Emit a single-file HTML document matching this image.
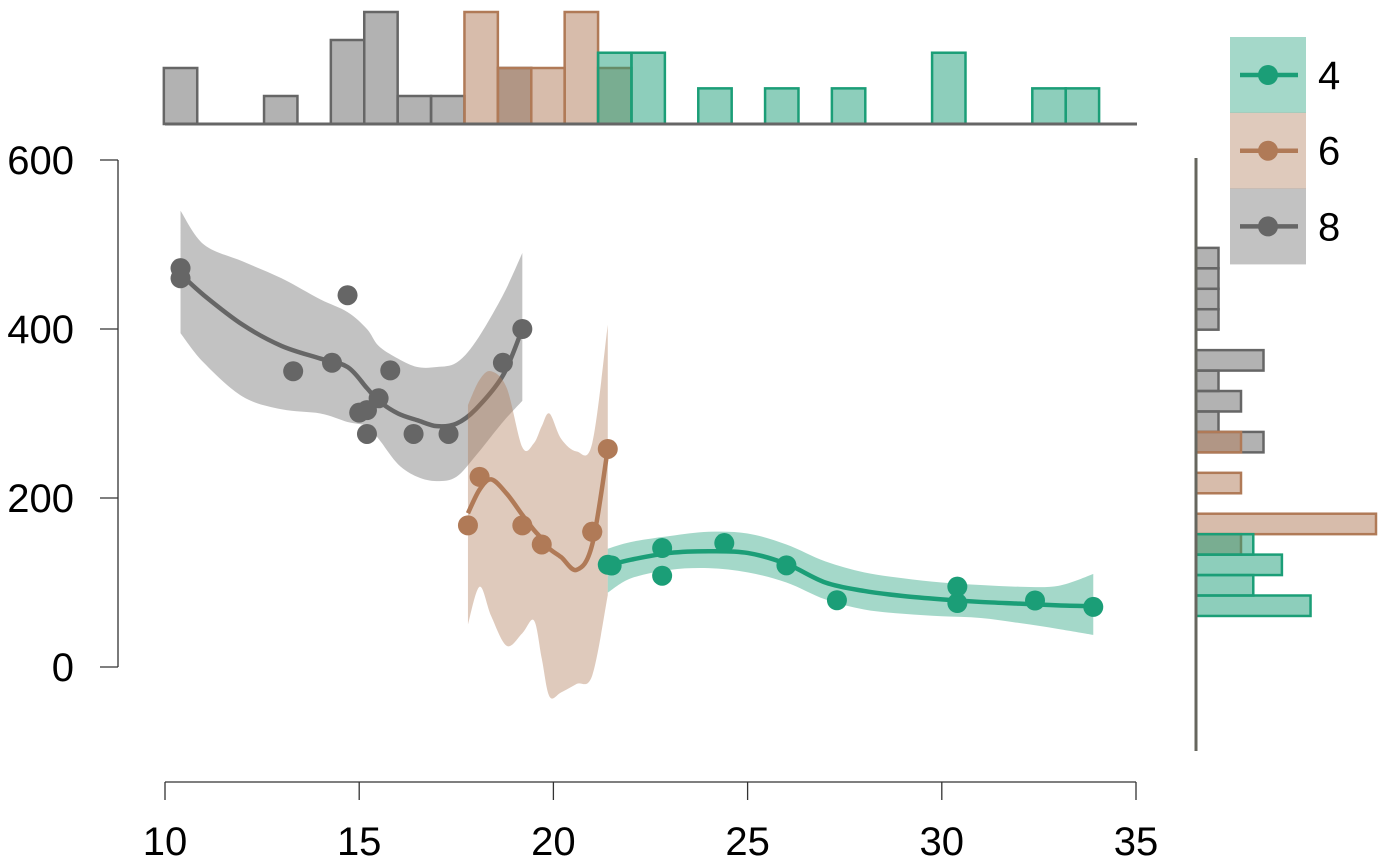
<!DOCTYPE html>
<html><head><meta charset="utf-8">
<style>
html,body{margin:0;padding:0;background:#fff;}
svg{display:block;font-family:"Liberation Sans",Arial,sans-serif;}
</style></head>
<body>
<svg id="chart" width="1400" height="866" viewBox="0 0 1400 866"></svg>
<script>
const groups = ["4","6","8"];
const colors = {"4":"#1b9e77","6":"#b07a57","8":"#666666"};
const mpg4 = [22.8,24.4,22.8,32.4,30.4,33.9,21.5,27.3,26.0,30.4,21.4];
const disp4 = [108,146.7,140.8,78.7,75.7,71.1,120.1,79,120.3,95.1,121];
const mpg6 = [21.0,21.0,21.4,18.1,19.2,17.8,19.7];
const disp6 = [160,160,258,225,167.6,167.6,145];
const mpg8 = [18.7,14.3,16.4,17.3,15.2,10.4,10.4,14.7,15.5,15.2,13.3,19.2,15.8,15.0];
const disp8 = [360,360,275.8,275.8,275.8,472,460,440,318,304,350,400,351,301];
// smooth fits (estimated)
const fitX8 = [10.4,11,12,13,14,14.7,15.2,15.5,16,16.5,17,17.5,18,18.7,19.2];
const fitY8 = [465,440,405,380,365,355,330,315,300,292,285,288,305,345,400];
const fitU8 = [540,500,480,460,435,420,400,380,365,355,355,360,385,440,490];
const fitL8 = [395,360,320,305,300,290,285,270,240,225,220,225,250,290,315];
const fitX6 = [17.8,18.1,18.4,18.8,19.2,19.5,19.7,19.9,20.2,20.6,21,21.4];
const fitY6 = [182,210,222,205,180,162,152,140,130,115,145,258];
const fitU6 = [310,340,350,330,260,265,285,300,270,255,265,405];
const fitL6 = [50,95,60,25,40,55,10,-35,-30,-20,-10,85];
const fitX4 = [21.4,22,23,24,25,26,27,28,29,30,31,32,33,33.9];
const fitY4 = [120,127,135,137,135,122,100,90,84,80,77,75,73,72];
const fitU4 = [140,148,155,160,158,145,125,112,105,100,97,95,96,110];
const fitL4 = [88,105,115,117,112,100,80,68,63,60,58,52,45,38];
const xTicks = [10,15,20,25,30,35];
const yTicks = [0,200,400,600];

const data = {"4":[mpg4,disp4,fitX4,fitY4,fitU4,fitL4],"6":[mpg6,disp6,fitX6,fitY6,fitU6,fitL6],"8":[mpg8,disp8,fitX8,fitY8,fitU8,fitL8]};
const X = v => 165 + (v-10)*38.84;
const Y = v => 667 - v*0.845;
const NS="http://www.w3.org/2000/svg";
const svg=document.getElementById('chart');
function mk(tag,attrs,parent){const e=document.createElementNS(NS,tag);for(const k in attrs)e.setAttribute(k,attrs[k]);(parent||svg).appendChild(e);return e;}
function smooth(pts){
  let d='M'+pts[0][0]+','+pts[0][1];
  for(let i=0;i<pts.length-1;i++){
    const p0=pts[Math.max(0,i-1)],p1=pts[i],p2=pts[i+1],p3=pts[Math.min(pts.length-1,i+2)];
    const c1=[p1[0]+(p2[0]-p0[0])/6,p1[1]+(p2[1]-p0[1])/6];
    const c2=[p2[0]-(p3[0]-p1[0])/6,p2[1]-(p3[1]-p1[1])/6];
    d+='C'+c1[0]+','+c1[1]+' '+c2[0]+','+c2[1]+' '+p2[0]+','+p2[1];
  }
  return d;
}

// axes
const yax=mk('g',{});


mk('line',{x1:118,y1:Y(600),x2:118,y2:Y(0),stroke:'#333','stroke-width':1.3},yax);
yTicks.forEach(t=>{
  mk('line',{x1:100,y1:Y(t),x2:118,y2:Y(t),stroke:'#333','stroke-width':1.3},yax);
  const tx=mk('text',{x:74,y:Y(t)+14,'text-anchor':'end','font-size':40,fill:'#000'},yax);
  
  
  tx.textContent=t;
});
const xax=mk('g',{});


mk('line',{x1:X(10),y1:782,x2:X(35),y2:782,stroke:'#333','stroke-width':1.3},xax);
xTicks.forEach(t=>{
  mk('line',{x1:X(t),y1:782,x2:X(t),y2:800,stroke:'#333','stroke-width':1.3},xax);
  const tx=mk('text',{x:X(t),y:855,'text-anchor':'middle','font-size':40,fill:'#000'},xax);
  
  
  tx.textContent=t;
});

// top histogram
const topG=mk('g',{});


const bw=0.86, b0=9.97;
["8","6","4"].forEach(g=>{
  const m=data[g][0], counts={};
  m.forEach(v=>{const b=Math.floor((v-b0)/bw);counts[b]=(counts[b]||0)+1;});
  for(const b in counts){
    const h=counts[b]/m.length*392;
    const r=mk('rect',{x:X(b0+b*bw),y:124-h,width:bw*38.84,height:h,fill:colors[g],'fill-opacity':0.5,stroke:colors[g],'stroke-width':2.5},topG);
    
    
  }
});
mk('line',{x1:165,y1:124,x2:1137,y2:124,stroke:'#666','stroke-width':3},topG);

// right histogram
const rG=mk('g',{});


const dw=24.2, d0=60.4;
["8","6","4"].forEach(g=>{
  const d=data[g][1], counts={};
  d.forEach(v=>{const b=Math.floor((v-d0)/dw);counts[b]=(counts[b]||0)+1;});
  for(const b in counts){
    const w=counts[b]/d.length*315;
    const yt=Y(d0+(+b+1)*dw), yb=Y(d0+b*dw);
    const r=mk('rect',{x:1196,y:yt,width:w,height:yb-yt,fill:colors[g],'fill-opacity':0.5,stroke:colors[g],'stroke-width':2.5},rG);
    
    
  }
});
mk('line',{x1:1196,y1:158,x2:1196,y2:751,stroke:'#66665e','stroke-width':3},rG);

// ribbons, lines, points
["8","6","4"].forEach(g=>{
  const [m,d,fx,fy,fu,fl]=data[g];
  const grp=mk('g',{});
  
  
  const up=fx.map((x,i)=>[X(x),Y(fu[i])]);
  const lo=fx.map((x,i)=>[X(x),Y(fl[i])]).reverse();
  const p=smooth(up)+smooth(lo).replace('M','L')+'Z';
  const rb=mk('path',{d:p,fill:colors[g],'fill-opacity':0.4,stroke:'none'},grp);
  
  
  const ln=mk('path',{d:smooth(fx.map((x,i)=>[X(x),Y(fy[i])])),fill:'none',stroke:colors[g],'stroke-width':4.5,'stroke-linejoin':'round'},grp);
  
  
  m.forEach((x,i)=>{
    const c=mk('circle',{cx:X(x),cy:Y(d[i]),r:10,fill:colors[g]},grp);
    
    
  });
});

// legend
const lg=mk('g',{});


groups.forEach((g,i)=>{
  const y0=37+i*75.7;
  const e=mk('g',{},lg);
  
  
  mk('rect',{x:1230,y:y0,width:76,height:76,fill:colors[g],'fill-opacity':0.4},e);
  mk('line',{x1:1240,y1:y0+38,x2:1298,y2:y0+38,stroke:colors[g],'stroke-width':4.5},e);
  mk('circle',{cx:1268,cy:y0+38,r:10,fill:colors[g]},e);
  const t=mk('text',{x:1318,y:y0+52,'font-size':40,fill:'#000'},e);
  t.textContent=g;
});
</script>
</body></html>
